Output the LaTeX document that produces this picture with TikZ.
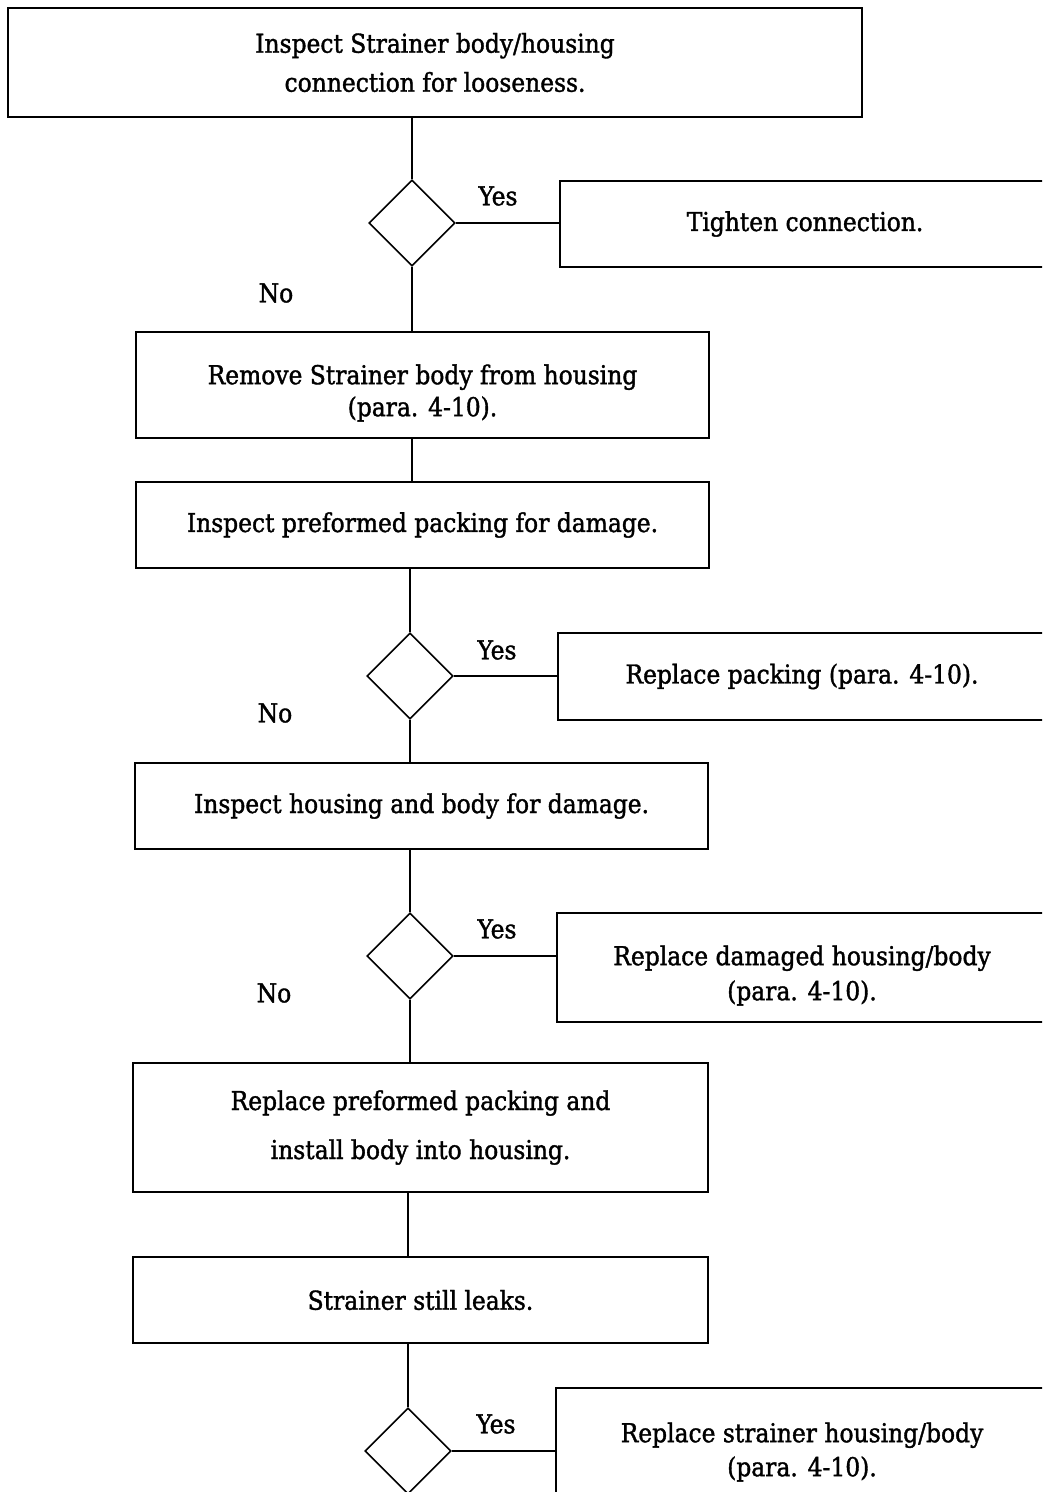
\documentclass[tikz,border=0pt]{standalone}
\usepackage{fontspec}
\setmainfont{DejaVu Serif Condensed}[FakeBold=1.4]
\usetikzlibrary{shapes.geometric}
\newcommand{\mainfnt}{\fontsize{26}{30}\selectfont}
\begin{document}
\begin{tikzpicture}[x=1pt,y=-1pt,
  box/.style={draw, line width=1.6pt, rectangle, inner sep=0pt, align=center, font=\mainfnt},
  dec/.style={draw, line width=1.6pt, diamond, minimum width=86pt, minimum height=86pt, inner sep=0pt},
  lbl/.style={font=\mainfnt, inner sep=0pt, align=center},
  ln/.style={line width=1.6pt}]
\clip (0,0) rectangle (1042,1492);
% boxes
\node[box, minimum width=854pt, minimum height=109pt] (b1) at (435,62.5) {Inspect Strainer body/housing\\[9pt]connection for looseness.};
\node[dec] (d1) at (412,223) {};
\node[box, minimum width=490pt, minimum height=86pt] (r1) at (805,224) {Tighten connection.};
\node[box, minimum width=573pt, minimum height=106pt] (b2) at (422.5,385) {};
\node[lbl] (b2t) at (422.5,393) {Remove Strainer body from housing\\[2pt](para. 4-10).};
\node[box, minimum width=573pt, minimum height=86pt] (b3) at (422.5,525) {Inspect preformed packing for damage.};
\node[dec] (d2) at (410,676) {};
\node[box, minimum width=488pt, minimum height=87pt] (r2) at (802,676.5) {Replace packing (para. 4-10).};
\node[box, minimum width=573pt, minimum height=86pt] (b4) at (421.5,806) {Inspect housing and body for damage.};
\node[dec] (d3) at (410,956) {};
\node[box, minimum width=490pt, minimum height=109pt] (r3) at (802,967.5) {};
\node[lbl] (r3t) at (802,975.5) {Replace damaged housing/body\\[5pt](para. 4-10).};
\node[box, minimum width=575pt, minimum height=129pt] (b5) at (420.5,1127.5) {Replace preformed packing and\\[19pt]install body into housing.};
\node[box, minimum width=575pt, minimum height=86pt] (b6) at (420.5,1300) {Strainer still leaks.};
\node[dec] (d4) at (408,1451) {};
\node[box, minimum width=492pt, minimum height=128pt] (r4) at (802,1452) {Replace strainer housing/body\\[4pt](para. 4-10).};
% labels
\node[lbl] (y1) at (498,196) {Yes};
\node[lbl] (n1) at (276,293) {No};
\node[lbl] (y2) at (497,650) {Yes};
\node[lbl] (n2) at (275,713) {No};
\node[lbl] (y3) at (497,929) {Yes};
\node[lbl] (n3) at (274,993) {No};
\node[lbl] (y4) at (496,1424) {Yes};
% connectors
\draw[ln] (b1.south -| d1.north) -- (d1.north);
\draw[ln] (d1.east) -- (d1.east -| r1.west);
\draw[ln] (d1.south) -- (d1.south |- b2.north);
\draw[ln] (d1.south |- b2.south) -- (d1.south |- b3.north);
\draw[ln] (b3.south -| d2.north) -- (d2.north);
\draw[ln] (d2.east) -- (d2.east -| r2.west);
\draw[ln] (d2.south) -- (d2.south |- b4.north);
\draw[ln] (b4.south -| d3.north) -- (d3.north);
\draw[ln] (d3.east) -- (d3.east -| r3.west);
\draw[ln] (d3.south) -- (d3.south |- b5.north);
\draw[ln] (d4.north |- b5.south) -- (d4.north |- b6.north);
\draw[ln] (b6.south -| d4.north) -- (d4.north);
\draw[ln] (d4.east) -- (d4.east -| r4.west);
\end{tikzpicture}
\end{document}
